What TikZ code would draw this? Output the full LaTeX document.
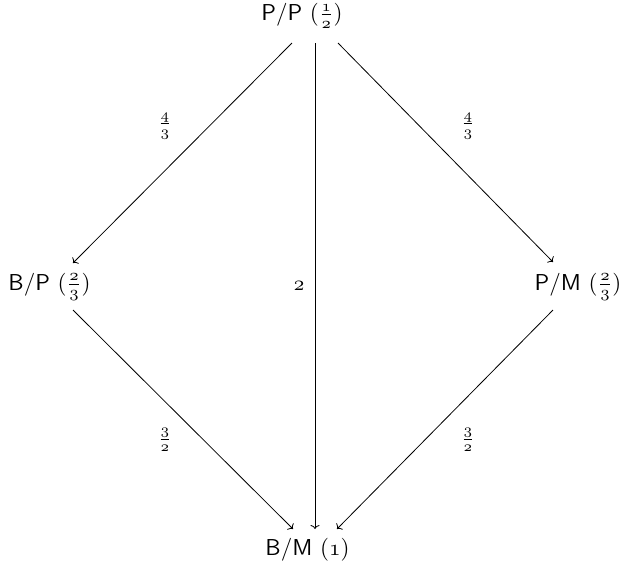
\documentclass[tikz,border=0pt]{standalone}
\usepackage{amsmath}
\usepackage{tikz}
\usetikzlibrary{arrows.meta}
\newcommand{\onum}[1]{\mathnormal{#1}}

\begin{document}
\begin{tikzpicture}[
        x=1pt, y=-1pt,
        state/.style = {inner sep=0, anchor=base, scale=2.3},
        wlabel/.style = {inner sep=0, scale=2.1},
        arrow/.style = {-{To[length=4pt, width=9pt]}, line width=0.8pt},
    ]
        \useasboundingbox (0,0) rectangle (622,566);
        \node[state] (pp) at (302,20.5) {\textsf{P/P} $(\frac{\onum{1}}{\onum{2}})$};
        \node[state] (bp) at (49.5,290) {\textsf{B/P} $(\frac{\onum{2}}{\onum{3}})$};
        \node[state] (pm) at (578,290) {\textsf{P/M} $(\frac{\onum{2}}{\onum{3}})$};
        \node[state] (bm) at (307.5,555) {\textsf{B/M} $(\onum{1})$};
        \draw[arrow] ([shift={(-10,22.5)}]pp.base) -- ([shift={(23.5,-27)}]bp.base);
        \draw[arrow] ([shift={(13,22.5)}]pp.base) -- ([shift={(7.5,-26)}]bm.base);
        \draw[arrow] ([shift={(36,22.5)}]pp.base) -- ([shift={(-25,-28)}]pm.base);
        \draw[arrow] ([shift={(23.5,20)}]bp.base) -- ([shift={(-14.5,-26)}]bm.base);
        \draw[arrow] ([shift={(-25,20)}]pm.base) -- ([shift={(29.5,-26)}]bm.base);
        % weights
        \node[wlabel] (w1) at (165,126) {$\frac{\onum{4}}{\onum{3}}$};
        \node[wlabel] (w2) at (468,126) {$\frac{\onum{4}}{\onum{3}}$};
        \node[wlabel] (w3) at (299,286) {$\onum{2}$};
        \node[wlabel] (w4) at (165,440) {$\frac{\onum{3}}{\onum{2}}$};
        \node[wlabel] (w5) at (468,440) {$\frac{\onum{3}}{\onum{2}}$};
\end{tikzpicture}
\end{document}
